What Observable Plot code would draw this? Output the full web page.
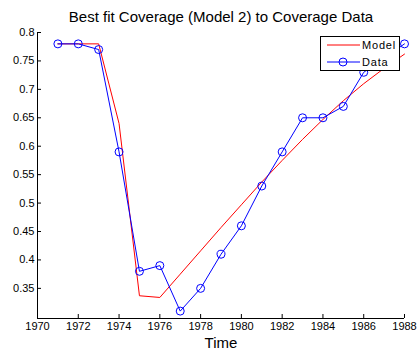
<!DOCTYPE html>
<html>
<head>
<meta charset="utf-8">
<script src="https://cdn.jsdelivr.net/npm/d3@7"></script>
<script src="https://cdn.jsdelivr.net/npm/@observablehq/plot@0.6"></script>
<style>
  html, body { margin: 0; padding: 0; background: #fff; }
  #chart { position: relative; width: 418px; height: 353px; }
</style>
</head>
<body>
<div id="chart"></div>
<script>
const years = [1971,1972,1973,1974,1975,1976,1977,1978,1979,1980,1981,1982,1983,1984,1985,1986,1987,1988];
const dataValues = [0.78,0.78,0.77,0.59,0.38,0.39,0.31,0.35,0.41,0.46,0.53,0.59,0.65,0.65,0.67,0.73,0.755,0.78];
const modelValues = [0.78,0.78,0.78,0.64,0.337,0.334,0.375,0.416,0.457,0.497,0.537,0.575,0.612,0.647,0.68,0.71,0.737,0.762];
const xTicks = [1970,1972,1974,1976,1978,1980,1982,1984,1986,1988];
const yTicks = [0.35,0.4,0.45,0.5,0.55,0.6,0.65,0.7,0.75,0.8];
const titleText = "Best fit Coverage (Model 2) to Coverage Data";
const xLabel = "Time";
const seriesNames = ["Model", "Data"];

const W = 418, H = 353, mL = 37, mR = 14, mT = 32, mB = 35;
const frameW = W - mL - mR, frameH = H - mT - mB;
const font = "'Liberation Sans', Arial, sans-serif";

const modelRows = years.map((t, i) => ({t, v: modelValues[i]}));
const dataRows = years.map((t, i) => ({t, v: dataValues[i]}));

const svg = Plot.plot({
  width: W, height: H,
  marginLeft: mL, marginRight: mR, marginTop: mT, marginBottom: mB,
  style: {fontFamily: font, fontSize: "11px", background: "#fff", color: "#000"},
  x: {domain: [1970, 1988]},
  y: {domain: [0.297, 0.8]},
  marks: [
    Plot.axisX({ticks: xTicks, tickSize: 0, tickPadding: 4, tickFormat: d => String(d), label: null, fontSize: 11}),
    Plot.axisY({ticks: yTicks, tickSize: 0, tickPadding: 3, tickFormat: d => String(+d.toFixed(2)), label: null, fontSize: 11}),
    Plot.tickX(xTicks, {x: d => d, insetTop: frameH - 4, stroke: "#000", strokeWidth: 1}),
    Plot.tickY(yTicks, {y: d => d, insetRight: frameW - 4, stroke: "#000", strokeWidth: 1}),
    Plot.ruleX([1970], {stroke: "#000", strokeWidth: 1}),
    Plot.ruleY([0.297], {stroke: "#000", strokeWidth: 1}),
    Plot.line(modelRows, {x: "t", y: "v", stroke: "#ff0000", strokeWidth: 1}),
    Plot.line(dataRows, {x: "t", y: "v", stroke: "#0000ff", strokeWidth: 1}),
    Plot.dot(dataRows, {x: "t", y: "v", r: 4, stroke: "#0000ff", fill: "none", strokeWidth: 1}),
    Plot.text([titleText], {frameAnchor: "top", dy: -15, fontSize: 15, lineAnchor: "middle", fill: "#000", letterSpacing: 0.3}),
    Plot.text([xLabel], {frameAnchor: "bottom", dy: 25, fontSize: 15, lineAnchor: "middle", fill: "#000"})
  ]
});

// Legend drawn inside the axes (top-right), like the original
const g = d3.select(svg).append("g").attr("font-family", font).attr("font-size", 11).attr("text-anchor", "start");
g.append("rect").attr("x", 320.5).attr("y", 36.5).attr("width", 79).attr("height", 34)
  .attr("fill", "#fff").attr("stroke", "#000").attr("stroke-width", 1);
g.append("line").attr("x1", 327).attr("x2", 360).attr("y1", 45).attr("y2", 45)
  .attr("stroke", "#ff0000").attr("stroke-width", 1);
g.append("line").attr("x1", 327).attr("x2", 360).attr("y1", 62).attr("y2", 62)
  .attr("stroke", "#0000ff").attr("stroke-width", 1);
g.append("circle").attr("cx", 343).attr("cy", 62).attr("r", 4)
  .attr("fill", "none").attr("stroke", "#0000ff").attr("stroke-width", 1);
g.append("text").attr("x", 362).attr("y", 45).attr("dy", "0.35em").attr("letter-spacing", 0.8).text(seriesNames[0]);
g.append("text").attr("x", 362).attr("y", 62).attr("dy", "0.35em").attr("letter-spacing", 0.8).text(seriesNames[1]);

document.getElementById("chart").appendChild(svg);
</script>
</body>
</html>
